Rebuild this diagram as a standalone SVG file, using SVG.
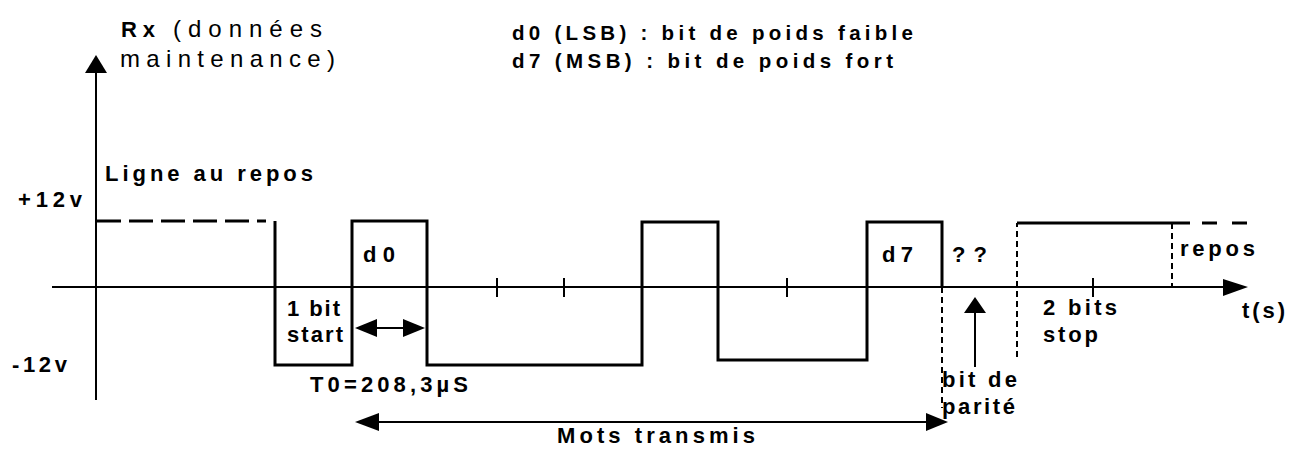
<svg xmlns="http://www.w3.org/2000/svg" width="1293" height="450" viewBox="0 0 1293 450">
<style>
text{font-family:"Liberation Sans",Arial,sans-serif;font-weight:bold;font-size:22px;fill:#000}
.reg{font-weight:normal;font-size:24px}
.top{font-size:20.5px}
.axis{stroke:#000;stroke-width:2;fill:none}
.sig{stroke:#000;stroke-width:3;fill:none}
.dash{stroke:#000;stroke-width:2;stroke-dasharray:6 4;fill:none}
.tdash{stroke:#000;stroke-width:3;stroke-dasharray:24 8;fill:none}
.tick{stroke:#000;stroke-width:2}
.ah{fill:#000}
</style>
<g id="axes">
<line class="axis" x1="96" y1="400" x2="96" y2="70"/>
<polygon class="ah" points="96,55 85,73 107,73"/>
<line class="axis" x1="52" y1="287" x2="1228" y2="287"/>
<polygon class="ah" points="1248,287 1223,279 1223,296"/>
<line class="tick" x1="497" y1="278" x2="497" y2="297"/>
<line class="tick" x1="564" y1="278" x2="564" y2="297"/>
<line class="tick" x1="787" y1="278" x2="787" y2="297"/>
<line class="tick" x1="1093" y1="278" x2="1093" y2="297"/>
</g>
<g id="signal">
<line class="tdash" x1="97" y1="221" x2="266" y2="221"/>
<polyline class="sig" points="275,221 275,365 352,365 352,221 427,221 427,365 642,365 642,222 718,222 718,360 867,360 867,222 942,222 942,287"/>
<line class="dash" x1="942" y1="287" x2="942" y2="408"/>
<polyline class="dash" points="1017,357 1017,223"/>
<line class="sig" x1="1017" y1="223" x2="1190" y2="223"/>
<line class="sig" x1="1202" y1="223" x2="1250" y2="223" stroke-dasharray="15 15"/>
<line class="dash" x1="1172" y1="223" x2="1172" y2="287"/>
</g>
<g id="connectors">
<line class="axis" x1="370" y1="328" x2="410" y2="328"/>
<polygon class="ah" points="355,328 377,319 377,337"/>
<polygon class="ah" points="425,328 403,319 403,337"/>
<line class="axis" x1="370" y1="422" x2="935" y2="422"/>
<polygon class="ah" points="355,422 379,413 379,431"/>
<polygon class="ah" points="948,422 926,413 926,431"/>
<line class="axis" x1="975" y1="305" x2="975" y2="367"/>
<polygon class="ah" points="975,297 964,313 986,313"/>
</g>
<g id="labels">
<text x="121" y="37" font-size="25px" textLength="34" lengthAdjust="spacing">Rx</text>
<text class="reg" x="173" y="37" textLength="149" lengthAdjust="spacing">(données</text>
<text class="reg" x="120" y="67" textLength="215" lengthAdjust="spacing">maintenance)</text>
<text class="top" x="512" y="40" textLength="401" lengthAdjust="spacing">d0 (LSB) : bit de poids faible</text>
<text class="top" x="512" y="68" textLength="381" lengthAdjust="spacing">d7 (MSB) : bit de poids fort</text>
<text x="105" y="181" textLength="208" lengthAdjust="spacing">Ligne au repos</text>
<text x="18" y="207" textLength="64" lengthAdjust="spacing">+12v</text>
<text x="12" y="372" textLength="55" lengthAdjust="spacing">-12v</text>
<text x="363" y="262" textLength="32" lengthAdjust="spacing">d0</text>
<text x="287" y="316" textLength="53" lengthAdjust="spacing">1 bit</text>
<text x="287" y="342" textLength="56" lengthAdjust="spacing">start</text>
<text x="310" y="392" textLength="158" lengthAdjust="spacing">T0=208,3µS</text>
<text x="557" y="443" textLength="198" lengthAdjust="spacing">Mots transmis</text>
<text x="882" y="262" textLength="31" lengthAdjust="spacing">d7</text>
<text x="952" y="262" textLength="35" lengthAdjust="spacing">??</text>
<text x="1180" y="256" textLength="75" lengthAdjust="spacing">repos</text>
<text x="1043" y="315" textLength="74" lengthAdjust="spacing">2 bits</text>
<text x="1043" y="342" textLength="55" lengthAdjust="spacing">stop</text>
<text x="1242" y="318" textLength="43" lengthAdjust="spacing">t(s)</text>
<text x="942" y="387" textLength="75" lengthAdjust="spacing">bit de</text>
<text x="942" y="414" textLength="73" lengthAdjust="spacing">parité</text>
</g>
</svg>
